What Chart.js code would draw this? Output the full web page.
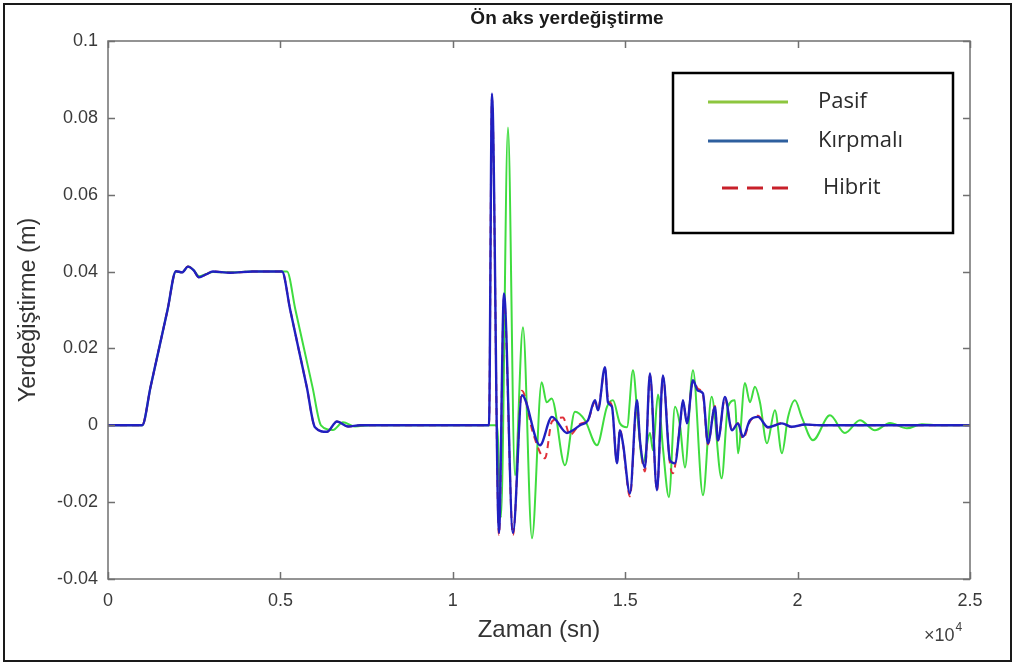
<!DOCTYPE html>
<html>
<head>
<meta charset="utf-8">
<title>Ön aks yerdeğiştirme</title>
<script src="https://cdn.jsdelivr.net/npm/chart.js@4.4.0/dist/chart.umd.min.js"></script>
<style>
  html, body { margin: 0; padding: 0; background: #ffffff; }
  #wrap { width: 1017px; height: 666px; }
</style>
</head>
<body>
<div id="wrap"><canvas id="c" width="1017" height="666"></canvas></div>
<script>
// Time (s) and front-axle displacement (m) for each suspension type
const timePasif = [0, 990, 1235, 1480, 1726, 1972, 2150, 2320, 2480, 2639, 2850, 3045, 3538, 4200, 5191, 5437, 5684, 5930, 6177, 6525, 6815, 7163, 7598,
  11281, 11397, 11600, 11803, 12035, 12296, 12577, 12722, 12867, 13253, 13543, 13833, 14181, 14471, 14645, 14848,
  15051, 15225, 15370, 15515, 15718, 15805, 15950, 16095, 16269, 16443, 16588, 16733, 16965, 17255, 17507, 17797,
  17980, 18183, 18270, 18473, 18618, 18763, 18908, 19111, 19343, 19546, 19720, 19923, 20126, 20445, 20938, 21373,
  21808, 22243, 22678, 23171, 23606, 24128, 25000];
const pasif = [0, 0, 0.0100, 0.0200, 0.0300, 0.0400, 0.0398, 0.0413, 0.0404, 0.0388, 0.0394, 0.0399, 0.0398, 0.0400, 0.0400, 0.0300, 0.0200, 0.0100, 0, -0.0012, 0.0008, -0.0003, 0,
  0, -0.024, 0.0775, -0.013, 0.0255, -0.0294, 0.0112, 0.006, 0.007, -0.0104, 0.0035, 0.0013, -0.0052, 0.0048, 0.0065, 0.0005,
  -0.0005, 0.0143, 0.001, -0.0099, -0.002, -0.0065, 0.008, -0.006, -0.0187, 0.0048, 0, -0.011, 0.0143, -0.0182, 0.0074, -0.0138,
  0.0048, 0.0065, -0.0073, 0.011, 0.006, 0.010, 0.006, -0.0047, 0.0039, -0.0073, 0.002, 0.0065, 0.002, -0.0039, 0.0026, -0.002,
  0.0013, -0.0013, 0.0006, -0.0008, 0.0003, 0, 0];

const timeKirpmali = [0, 990, 1235, 1480, 1726, 1972, 2150, 2320, 2480, 2639, 2850, 3045, 3538, 4200, 5046, 5285, 5525, 5764, 6003, 6351, 6641, 6960, 7308,
  11049, 11136, 11339, 11484, 11745, 12006, 12528, 12876, 13311, 13485, 13688, 13920, 14123, 14210, 14413, 14500, 14616,
  14761, 14848, 14935, 15138, 15341, 15428, 15573, 15718, 15921, 16095, 16298, 16443, 16588, 16675, 16791, 16965, 17110,
  17255, 17400, 17603, 17690, 17893, 18096, 18270, 18415, 18618, 18850, 19140, 19546, 19836, 20213, 20648, 25000];
const kirpmali = [0, 0, 0.0100, 0.0200, 0.0300, 0.0401, 0.0398, 0.0413, 0.0404, 0.0385, 0.0393, 0.0400, 0.0397, 0.0400, 0.0400, 0.0300, 0.0200, 0.0100, -0.0005, -0.0017, 0.001, -0.0003, 0,
  0, 0.0863, -0.028, 0.0343, -0.028, 0.0078, -0.0052, 0.0022, -0.002, -0.0013, 0, 0.0013, 0.0065, 0.0039, 0.0151, 0.006, 0.0048,
  -0.0099, -0.0013, -0.0047, -0.0177, 0.0065, -0.0039, -0.011, 0.0135, -0.0169, 0.013, -0.0091, -0.0099, 0, 0.0065, 0.0005, 0.0117, 0.009,
  0.0083, -0.0047, 0.0048, -0.0039, 0.0074, -0.0013, 0.0005, -0.003, 0.0013, 0.0022, -0.0005, 0.0005, -0.0004, 0.0002, 0, 0];

const timeHibrit = [0, 990, 1235, 1480, 1726, 1972, 2150, 2320, 2480, 2639, 2850, 3045, 3538, 4200, 5046, 5285, 5525, 5764, 6003, 6351, 6641, 6960, 7308,
  11049, 11136, 11339, 11484, 11745, 12006, 12325, 12673, 12876, 13195, 13398, 13688, 13920, 14123, 14210, 14413, 14500, 14616,
  14761, 14848, 14935, 15138, 15341, 15428, 15573, 15718, 15921, 16095, 16298, 16385, 16588, 16675, 16791, 16965, 17110,
  17255, 17400, 17603, 17690, 17893, 18096, 18270, 18415, 18618, 18850, 19140, 19546, 19836, 20213, 20648, 25000];
const hibrit = [0, 0, 0.0100, 0.0200, 0.0300, 0.0401, 0.0398, 0.0413, 0.0404, 0.0385, 0.0393, 0.0400, 0.0397, 0.0400, 0.0400, 0.0300, 0.0200, 0.0100, -0.0005, -0.0017, 0.001, -0.0003, 0,
  0, 0.085, -0.0285, 0.033, -0.0285, 0.009, -0.002, -0.0086, 0.001, 0.002, -0.0025, 0.0003, 0.0013, 0.006, 0.0045, 0.0145, 0.007, 0.005,
  -0.0095, -0.001, -0.005, -0.0185, 0.006, -0.004, -0.012, 0.013, -0.017, 0.0125, -0.01, -0.0125, 0, 0.006, 0.001, 0.0115, 0.0095,
  0.008, -0.005, 0.005, -0.004, 0.007, -0.001, 0.0005, -0.0035, 0.001, 0.0025, -0.0006, 0.0006, -0.0005, 0.0002, 0, 0];

const seriesNames = ['Pasif', 'Kırpmalı', 'Hibrit'];
const xTickValues = [0, 5000, 10000, 15000, 20000, 25000];
const xTickLabels = ['0', '0.5', '1', '1.5', '2', '2.5'];
const yTickValues = [-0.04, -0.02, 0, 0.02, 0.04, 0.06, 0.08, 0.1];
const yTickLabels = ['-0.04', '-0.02', '0', '0.02', '0.04', '0.06', '0.08', '0.1'];

const toPoints = (t, v) => t.map((x, i) => ({ x: x, y: v[i] }));

// Page background, outer frame, title, axes box with inward ticks, exponent and legend box
const decor = {
  id: 'decor',
  beforeDraw(chart) {
    const ctx = chart.ctx;
    ctx.save();
    ctx.fillStyle = '#ffffff';
    ctx.fillRect(0, 0, chart.width, chart.height);
    ctx.restore();
  },
  afterDatasetsDraw(chart) {
    const ctx = chart.ctx;
    const a = chart.chartArea;
    const xs = chart.scales.x, ys = chart.scales.y;
    ctx.save();
    // axes box
    ctx.strokeStyle = '#707070';
    ctx.lineWidth = 1.5;
    ctx.strokeRect(a.left, a.top, a.right - a.left, a.bottom - a.top);
    const tl = 7;
    ctx.beginPath();
    xTickValues.forEach(v => {
      const px = Math.round(xs.getPixelForValue(v)) + 0.5;
      ctx.moveTo(px, a.bottom); ctx.lineTo(px, a.bottom - tl);
      ctx.moveTo(px, a.top); ctx.lineTo(px, a.top + tl);
    });
    yTickValues.forEach(v => {
      const py = Math.round(ys.getPixelForValue(v)) + 0.5;
      ctx.moveTo(a.left, py); ctx.lineTo(a.left + tl, py);
      ctx.moveTo(a.right, py); ctx.lineTo(a.right - tl, py);
    });
    ctx.stroke();

    // title
    ctx.fillStyle = '#1a1a1a';
    ctx.font = 'bold 19px "Liberation Sans", Arial, sans-serif';
    ctx.textAlign = 'center';
    ctx.textBaseline = 'middle';
    ctx.fillText('Ön aks yerdeğiştirme', 567, 19);

    // x10^4 exponent
    ctx.fillStyle = '#404040';
    ctx.font = '18px "Liberation Sans", Arial, sans-serif';
    ctx.textAlign = 'left';
    ctx.textBaseline = 'alphabetic';
    const base = '×10';
    ctx.fillText(base, 924, 641);
    const bw = ctx.measureText(base).width;
    ctx.font = '12px "Liberation Sans", Arial, sans-serif';
    ctx.fillText('4', 924 + bw + 1, 631);

    // legend box
    const L = { x: 673, y: 73, w: 280, h: 160 };
    ctx.fillStyle = '#ffffff';
    ctx.fillRect(L.x, L.y, L.w, L.h);
    ctx.strokeStyle = '#000000';
    ctx.lineWidth = 2.5;
    ctx.strokeRect(L.x, L.y, L.w, L.h);
    const legendRows = [
      { y: 102, color: '#8dc63f', dash: [], x0: 708, tx: 818 },
      { y: 141, color: '#2e5f9e', dash: [], x0: 708, tx: 818 },
      { y: 188, color: '#c8202a', dash: [16, 9], x0: 722, tx: 823 }
    ];
    legendRows.forEach((r, i) => {
      ctx.beginPath();
      ctx.setLineDash(r.dash);
      ctx.strokeStyle = r.color;
      ctx.lineWidth = 3;
      ctx.moveTo(r.x0, r.y); ctx.lineTo(788, r.y);
      ctx.stroke();
      ctx.setLineDash([]);
      ctx.fillStyle = '#2b2b2b';
      ctx.font = '22px "Open Sans", "Liberation Sans", sans-serif';
      ctx.textAlign = 'left';
      ctx.textBaseline = 'middle';
      ctx.fillText(seriesNames[i], r.tx, r.y);
    });

    // outer frame
    ctx.strokeStyle = '#1a1a1a';
    ctx.lineWidth = 2;
    ctx.strokeRect(4, 4, 1007, 657);
    ctx.restore();
  }
};

new Chart(document.getElementById('c'), {
  type: 'line',
  data: {
    datasets: [
      { label: seriesNames[0], data: toPoints(timePasif, pasif), borderColor: '#3fdc3f', borderWidth: 2, order: 3 },
      { label: seriesNames[2], data: toPoints(timeHibrit, hibrit), borderColor: '#e0303a', borderWidth: 2, borderDash: [7, 5], order: 2 },
      { label: seriesNames[1], data: toPoints(timeKirpmali, kirpmali), borderColor: '#2020c0', borderWidth: 2.4, order: 1 }
    ]
  },
  options: {
    responsive: false,
    animation: false,
    devicePixelRatio: 1,
    layout: { padding: { top: 41, right: 47, left: 0, bottom: 0 } },
    elements: {
      point: { radius: 0 },
      line: { cubicInterpolationMode: 'monotone', fill: false }
    },
    plugins: { legend: { display: false }, title: { display: false }, tooltip: { enabled: false } },
    scales: {
      x: {
        type: 'linear',
        min: 0, max: 25000,
        afterFit: s => { s.height = 87; },
        afterBuildTicks: s => { s.ticks = xTickValues.map(v => ({ value: v })); },
        grid: { display: false, drawTicks: false },
        border: { display: false },
        ticks: {
          padding: 11, maxRotation: 0, color: '#3a3a3a',
          font: { family: '"Liberation Sans", Arial, sans-serif', size: 18 },
          callback: (v, i) => xTickLabels[i]
        },
        title: {
          display: true, text: 'Zaman (sn)', color: '#333333',
          font: { family: '"Liberation Sans", Arial, sans-serif', size: 24 },
          padding: { top: 0, bottom: 21 }
        }
      },
      y: {
        type: 'linear',
        min: -0.04, max: 0.1,
        afterFit: s => { s.width = 108; },
        afterBuildTicks: s => { s.ticks = yTickValues.map(v => ({ value: v })); },
        grid: { display: false, drawTicks: false },
        border: { display: false },
        ticks: {
          padding: 10, color: '#3a3a3a',
          font: { family: '"Liberation Sans", Arial, sans-serif', size: 18 },
          callback: (v, i) => yTickLabels[i]
        },
        title: {
          display: true, text: 'Yerdeğiştirme (m)', color: '#333333',
          font: { family: '"Liberation Sans", Arial, sans-serif', size: 23.5 },
          padding: { top: 14, bottom: 0 }
        }
      }
    }
  },
  plugins: [decor]
});
</script>
</body>
</html>
